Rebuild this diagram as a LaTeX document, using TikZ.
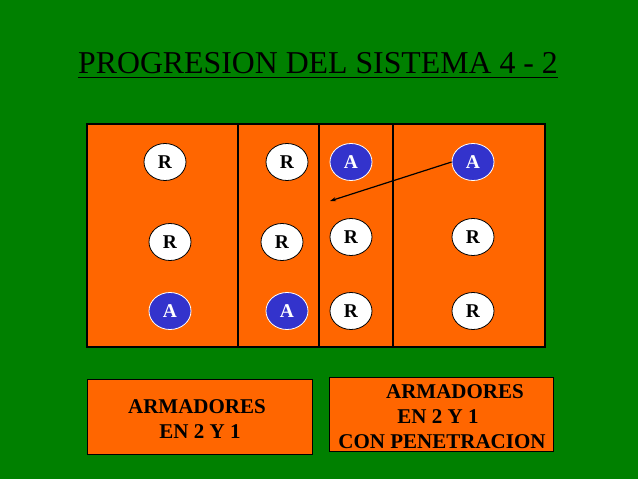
\documentclass[tikz,border=0pt]{standalone}
\usepackage{fontspec}
\setmainfont{Liberation Serif}
\usetikzlibrary{shapes.geometric,arrows.meta,calc}
\definecolor{bggreen}{RGB}{0,128,0}
\definecolor{courtorange}{RGB}{255,102,0}
\definecolor{setblue}{RGB}{51,51,204}
\tikzset{
  player/.style={ellipse,draw=black,fill=white,line width=0.8pt,minimum width=42pt,minimum height=37pt,inner sep=0pt,font=\fontsize{19.5}{19.5}\selectfont\bfseries,text=black},
  setter/.style={player,draw=white,fill=setblue,text=white},
  infobox/.style={draw=black,fill=courtorange,line width=1pt,inner sep=0pt},
  infotext/.style={anchor=base,font=\fontsize{21}{25}\selectfont\bfseries,text=black,inner sep=0pt},
  courtline/.style={draw=black,line width=1.2pt}
}
\begin{document}
\begin{tikzpicture}[x=1pt,y=-1pt]
\fill[bggreen] (0,0) rectangle (638,479);
\useasboundingbox (0,0) rectangle (638,479);
% title
\node[anchor=base,inner sep=0pt,font=\fontsize{31.8}{32}\selectfont] (title) at (318,73) {PROGRESION DEL SISTEMA 4 - 2};
\draw[line width=1.2pt] ($(title.base west)+(0,4.5)$) -- ($(title.base east)+(0,4.5)$);
% court
\node[courtline,fill=courtorange,minimum width=458pt,minimum height=223pt,inner sep=0pt,line width=2pt] (court) at (316,235.5) {};
\coordinate (l1t) at (238,124); \coordinate (l1b) at (238,347);
\coordinate (l2t) at (319,124); \coordinate (l2b) at (319,347);
\coordinate (l3t) at (393,124); \coordinate (l3b) at (393,347);
\draw[courtline] (l1t) -- (l1b);
\draw[courtline] (l2t) -- (l2b);
\draw[courtline] (l3t) -- (l3b);
% players
\node[player] (r11) at (165,162) {R};
\node[player] (r12) at (170,242) {R};
\node[setter] (a13) at (170,311) {A};
\node[player] (r21) at (287,162) {R};
\node[player] (r22) at (282,242) {R};
\node[setter] (a23) at (287,311) {A};
\node[setter] (a31) at (351,162) {A};
\node[player] (r32) at (351,237) {R};
\node[player] (r33) at (351,311) {R};
\node[setter] (a41) at (473,162) {A};
\node[player] (r42) at (473,237) {R};
\node[player] (r43) at (473,311) {R};
% arrow
\coordinate (tip) at (330,201);
\draw[line width=1.2pt,-{Stealth[length=6pt,width=4pt]}] (a41.west) -- (tip);
% boxes
\node[infobox,minimum width=225pt,minimum height=75pt] (b1) at (199.5,416.5) {};
\node[infobox,minimum width=224pt,minimum height=74pt] (b2) at (441,414) {};
\node[infotext] (t1a) at (197,413) {ARMADORES};
\node[infotext] (t1b) at (200,438) {EN 2 Y 1};
\node[infotext] (t2a) at (455,398) {ARMADORES};
\node[infotext] (t2b) at (438,423) {EN 2 Y 1};
\node[infotext] (t2c) at (442,448) {CON PENETRACION};
\end{tikzpicture}
\end{document}
